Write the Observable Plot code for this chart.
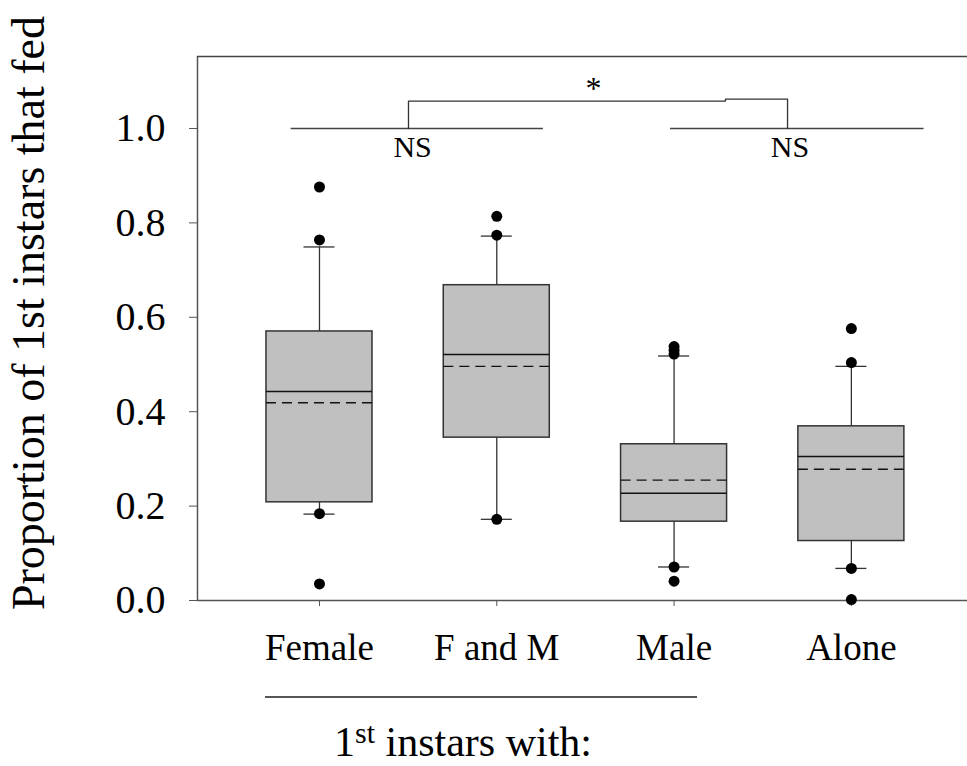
<!DOCTYPE html>
<html>
<head>
<meta charset="utf-8">
<script src="https://cdn.jsdelivr.net/npm/d3@7"></script>
<script src="https://cdn.jsdelivr.net/npm/@observablehq/plot@0.6"></script>
<style>
  html, body { margin: 0; padding: 0; background: white; }
  #wrap { position: relative; width: 967px; height: 766px; font-family: "Liberation Serif", "Times New Roman", serif; }
  #caption { position: absolute; left: 0; top: 680px; width: 967px; height: 86px; }
  #capline { position: absolute; left: 265px; top: 16px; width: 432px; height: 0; border-top: 2px solid #555; }
  #captext { position: absolute; left: 334px; top: 45px; font-size: 42px; line-height: 34px; color: black; white-space: nowrap; }
  #captext sup { font-size: 30px; position: relative; top: -7px; vertical-align: top; line-height: 30px; }
</style>
</head>
<body>
<div id="wrap">
  <div id="chart"></div>
  <div id="caption"><div id="capline"></div><div id="captext">1<sup>st</sup> instars with:</div></div>
</div>
<script>
// ---- data ----
const categories = ["Female", "F and M", "Male", "Alone"];
const whiskerLow  = [0.183, 0.172, 0.071, 0.068];
const q1          = [0.208, 0.345, 0.167, 0.126];
const median      = [0.443, 0.521, 0.227, 0.305];
const mean        = [0.419, 0.496, 0.255, 0.278];
const q3          = [0.570, 0.668, 0.331, 0.369];
const whiskerHigh = [0.749, 0.772, 0.518, 0.496];
const outlierCategory = ["Female","Female","Female","Female","F and M","F and M","F and M","Male","Male","Male","Male","Male","Alone","Alone","Alone","Alone"];
const outlierValue    = [0.876, 0.764, 0.184, 0.035, 0.814, 0.774, 0.172, 0.538, 0.530, 0.522, 0.071, 0.041, 0.576, 0.504, 0.068, 0.002];
const yTicks = [0.0, 0.2, 0.4, 0.6, 0.8, 1.0];
const yLabelText = "Proportion of 1st instars that fed";
// significance annotations (x in category-index units, y in data units)
const nsLineStart = [-0.16, 1.98];
const nsLineEnd   = [1.263, 3.41];
const nsLevel = 1.0;
const nsLabelX = [0.525, 2.654];
const nsLabels = ["NS", "NS"];
const bracketX = [0.502, 0.502, 2.29, 2.29, 2.64, 2.64];
const bracketY = [1.0, 1.058, 1.058, 1.062, 1.062, 1.0];
const starX = [1.545];
const starLabel = ["*"];

// ---- layout ----
const xDomain = [-0.688, 3.655];
const yMax = 1.1525;
const halfBox = 0.299;
const halfCap = 0.0875;

const boxes = categories.map((c, i) => ({
  i, lo: whiskerLow[i], q1: q1[i], med: median[i], mean: mean[i], q3: q3[i], hi: whiskerHigh[i]
}));
const outliers = outlierValue.map((v, k) => ({ i: categories.indexOf(outlierCategory[k]), v }));
const nsLines = nsLineStart.map((s, k) => ({ x1: s, x2: nsLineEnd[k] }));
const bracket = bracketX.map((x, k) => ({ x, y: bracketY[k] }));

const chart = Plot.plot({
  width: 967,
  height: 680,
  marginLeft: 197,
  marginRight: 0,
  marginTop: 56,
  marginBottom: 80,
  style: { fontFamily: "'Liberation Serif', 'Times New Roman', serif", background: "white", color: "black" },
  x: { type: "linear", domain: xDomain },
  y: { domain: [0, yMax] },
  marks: [
    // frame lines
    Plot.ruleX([xDomain[0]], { y1: 0, y2: yMax, stroke: "#555", strokeWidth: 1.5 }),
    Plot.ruleY([0], { stroke: "#555", strokeWidth: 1.5 }),
    Plot.ruleY([yMax], { stroke: "#444", strokeWidth: 1.5 }),
    Plot.axisY({ ticks: yTicks, tickFormat: d3.format(".1f"), tickSize: 8, tickPadding: 24, fontSize: 40, label: null, stroke: "#555" }),
    Plot.axisX({ ticks: [0, 1, 2, 3], tickFormat: i => categories[i], tickSize: 6, tickPadding: 27, fontSize: 37, label: null, stroke: "#555" }),
    // whiskers
    Plot.ruleX(boxes, { x: "i", y1: "q3", y2: "hi", stroke: "#333", strokeWidth: 1.3 }),
    Plot.ruleX(boxes, { x: "i", y1: "lo", y2: "q1", stroke: "#333", strokeWidth: 1.3 }),
    Plot.ruleY(boxes, { y: "hi", x1: d => d.i - halfCap, x2: d => d.i + halfCap, stroke: "#333", strokeWidth: 1.3 }),
    Plot.ruleY(boxes, { y: "lo", x1: d => d.i - halfCap, x2: d => d.i + halfCap, stroke: "#333", strokeWidth: 1.3 }),
    // boxes
    Plot.rect(boxes, { x1: d => d.i - halfBox, x2: d => d.i + halfBox, y1: "q1", y2: "q3", fill: "#c0c0c0", stroke: "#333", strokeWidth: 1.5 }),
    Plot.ruleY(boxes, { y: "med", x1: d => d.i - halfBox, x2: d => d.i + halfBox, stroke: "#111", strokeWidth: 1.5 }),
    Plot.ruleY(boxes, { y: "mean", x1: d => d.i - halfBox, x2: d => d.i + halfBox, stroke: "#111", strokeWidth: 1.4, strokeDasharray: "10,6" }),
    // outliers
    Plot.dot(outliers, { x: "i", y: "v", r: 5.5, fill: "black", stroke: "none" }),
    // significance annotations
    Plot.ruleY(nsLines, { y: () => nsLevel, x1: "x1", x2: "x2", stroke: "#444", strokeWidth: 1.5 }),
    Plot.line(bracket, { x: "x", y: "y", stroke: "#333", strokeWidth: 1.3, curve: "linear" }),
    Plot.text(nsLabelX, { x: d => d, y: () => 0.9386, text: (d, k) => nsLabels[k], lineAnchor: "bottom", fontSize: 30, fill: "black" }),
    Plot.text(starX, { x: d => d, y: () => 1.062, text: (d, k) => starLabel[k], lineAnchor: "bottom", fontSize: 32, fill: "black" }),
    // y label
    Plot.text([yLabelText], { y: () => 0.609, frameAnchor: "left", dx: -154, rotate: -90, lineAnchor: "bottom", textAnchor: "middle", fontSize: 46, fill: "black", text: d => d })
  ]
});
document.getElementById("chart").appendChild(chart);
</script>
</body>
</html>
